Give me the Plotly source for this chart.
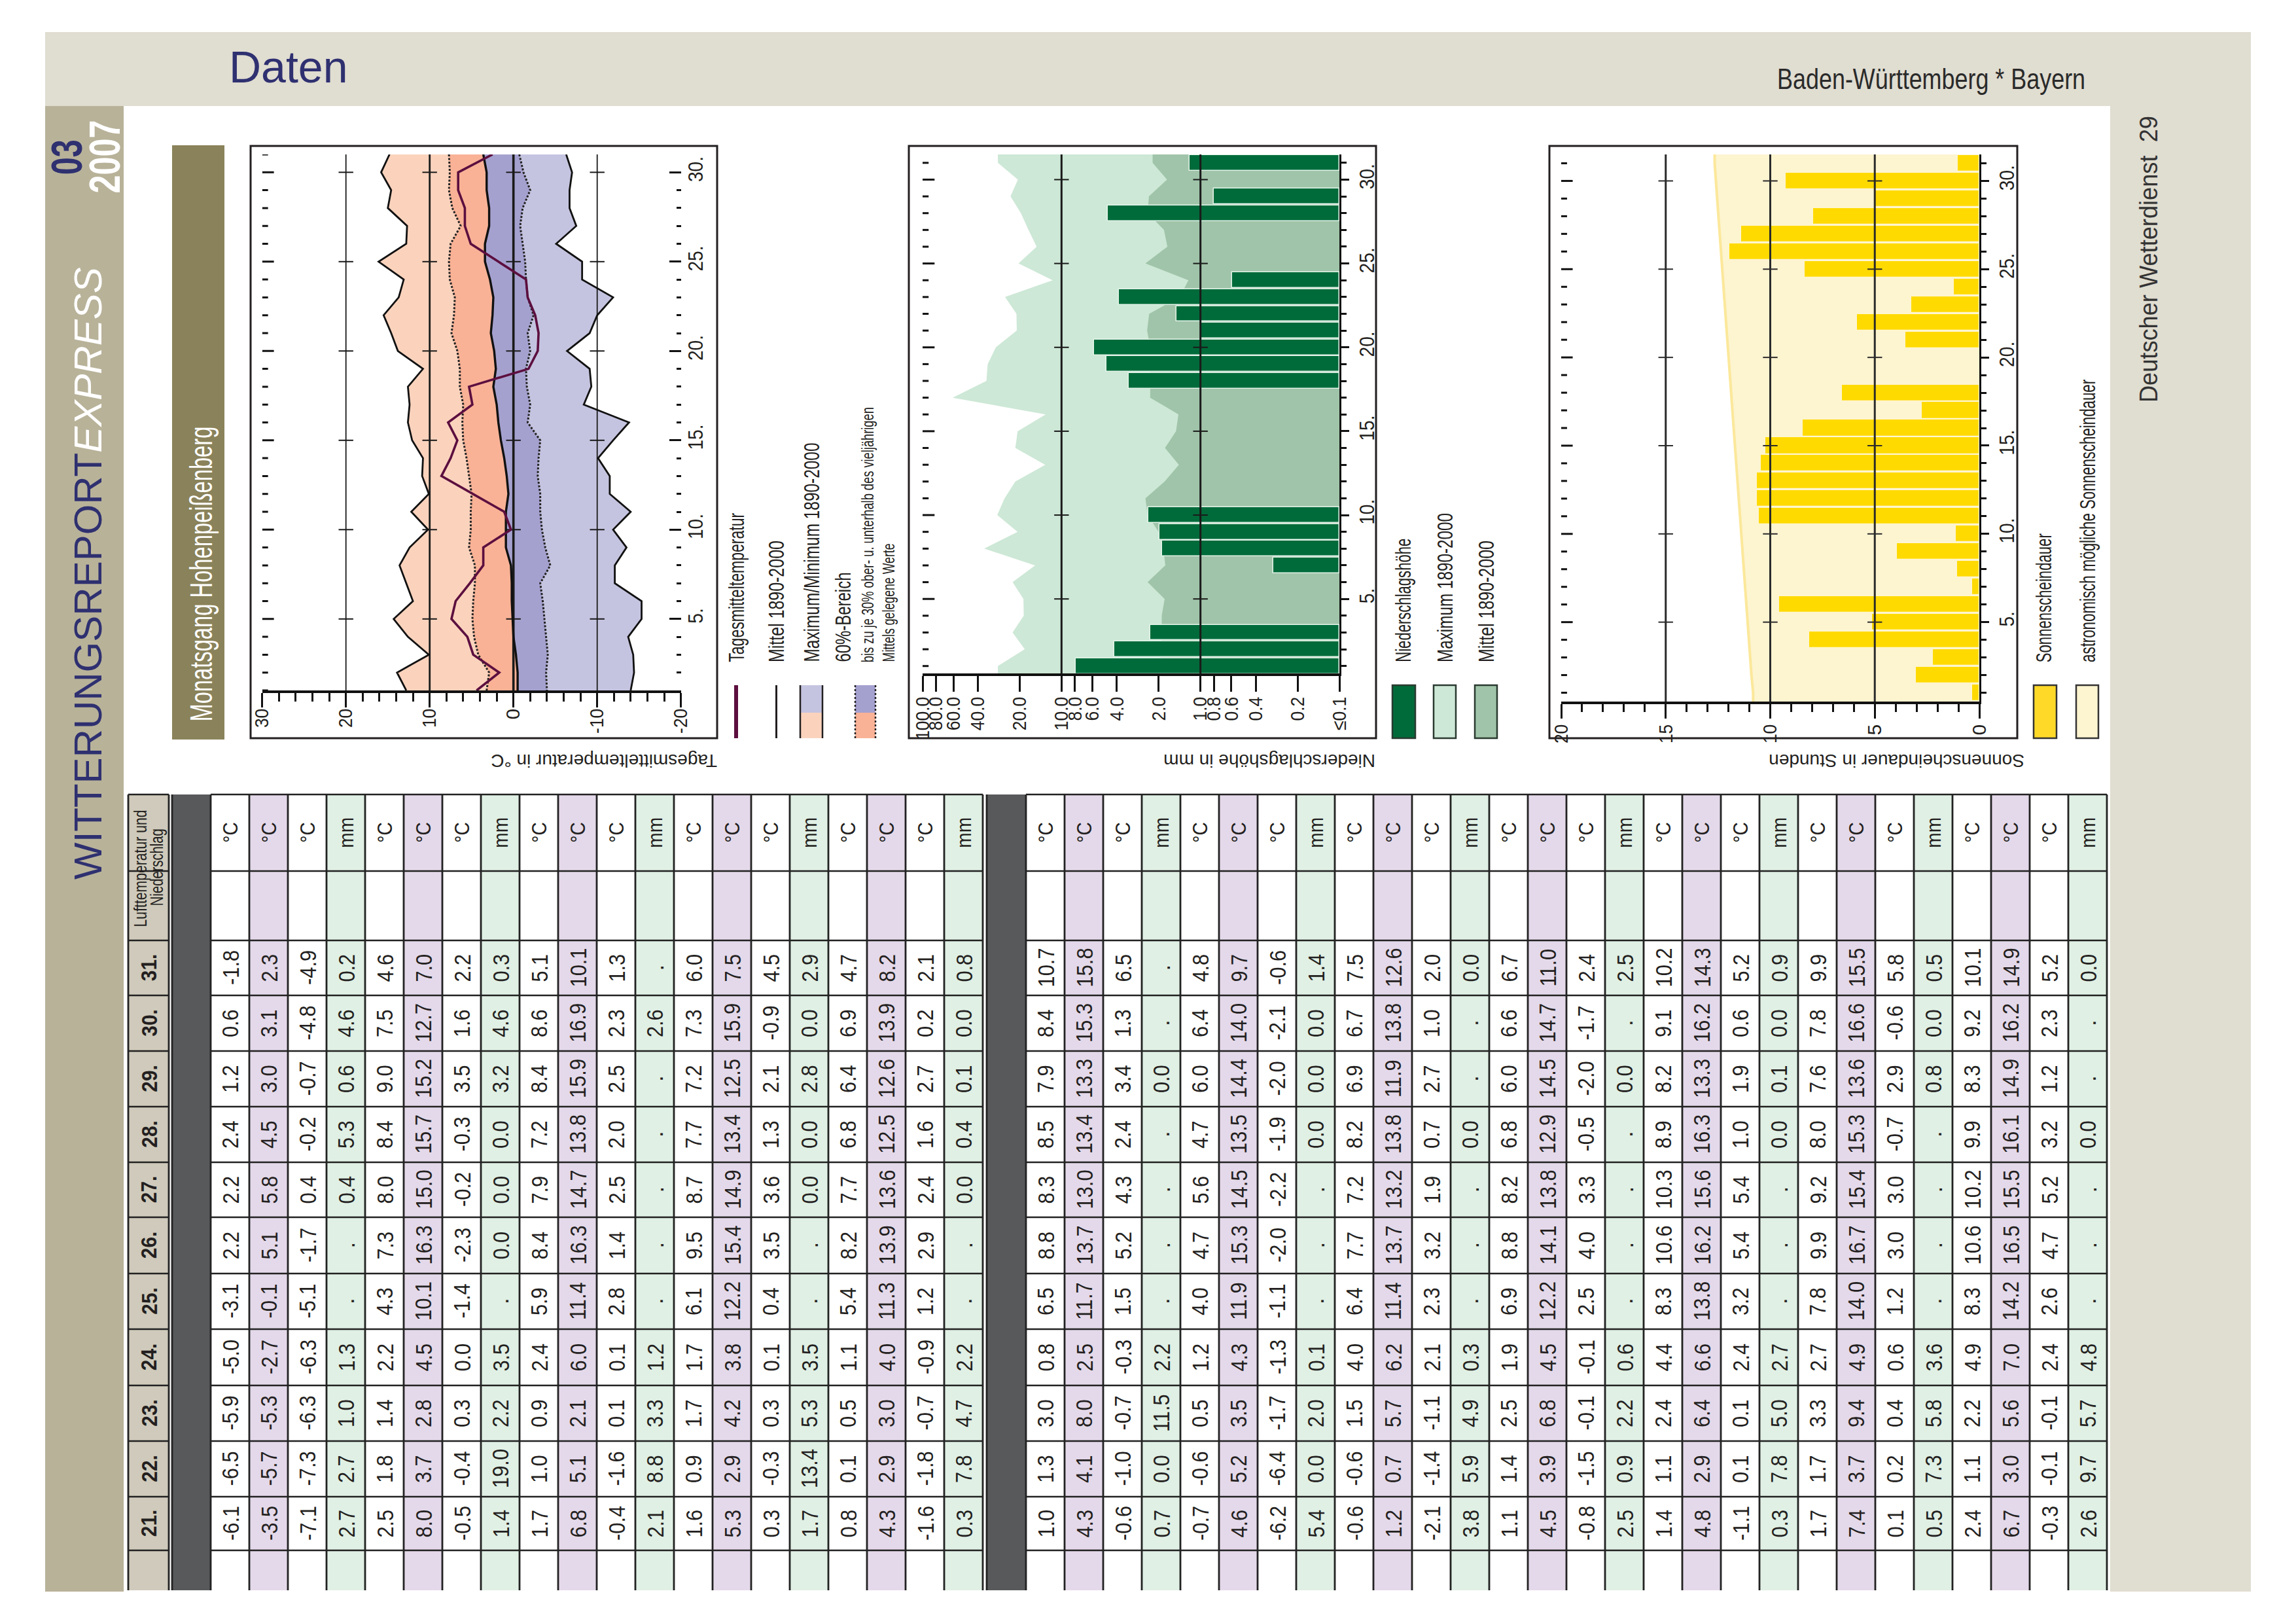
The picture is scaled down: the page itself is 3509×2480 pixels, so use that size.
import json
import plotly.graph_objects as go

W, H = 3509, 2480
NARROW = "Liberation Sans Narrow, Liberation Sans, Arial, sans-serif"
ARIAL = "Liberation Sans, Arial, sans-serif"
INK = "#231f20"

days_desc = list(range(31, 0, -1))

# ---- temperature chart (day 31 down to day 1)
t_max = [14.8,15.8,14.6,15.0,12.7,12.8,16.1,13.1,13.7,15.5,14.6,13.8,10.8,12.6,12.4,12.6,12.1,10.8,10.9,10.1,12.2,10.2,12.4,13.6,12.8,12.0,14.3,12.6,10.1,13.9,12.8]
t_upper = [7.7,7.6,7.7,7.3,6.3,7.5,7.7,7.6,7.0,7.1,7.4,6.7,6.4,6.4,6.0,6.1,6.0,5.6,5.3,5.0,5.1,5.1,5.3,4.6,4.6,4.8,4.9,4.7,4.2,2.9,3.2]
t_mean = [3.6,3.2,3.2,2.9,2.9,3.4,3.4,2.8,2.4,2.5,2.7,2.3,2.1,2.4,2.0,1.8,1.5,1.1,0.8,0.6,0.9,0.9,0.9,0.3,0.2,0.2,0.1,0.0,-0.3,-0.5,-0.5]
t_lower = [-0.7,-1.2,-2.0,-1.1,-0.8,-1.1,-1.4,-1.5,-1.7,-2.4,-1.7,-2.0,-1.5,-1.6,-2.0,-1.7,-3.2,-3.0,-2.9,-3.2,-3.2,-3.4,-3.8,-4.4,-3.2,-3.5,-3.7,-3.9,-4.1,-3.9,-4.0]
t_min = [-6.3,-7.0,-6.7,-6.7,-7.5,-5.1,-8.2,-8.2,-11.9,-10.0,-9.1,-6.4,-9.1,-9.3,-8.4,-13.8,-11.9,-10.1,-11.5,-11.5,-14.0,-11.9,-13.5,-12.1,-12.1,-15.3,-15.3,-13.7,-14.3,-14.4,-14.0]
t_day = [2.5,6.6,6.6,5.8,5.8,5.1,1.8,-1.5,-1.7,-2.6,-3.0,-2.9,-1.8,5.3,4.9,7.8,6.7,7.5,8.6,4.9,1.1,0.3,3.6,3.6,5.2,6.9,7.4,5.5,4.8,1.7,4.4]
t_ticks = [30, 20, 10, 0, -10, -20]
t_labels = ["30", "20", "10", "0", "-10", "-20"]
t_grid = [20, 10, 0, -10]

# ---- precipitation chart
p_max = [28.7,20.6,23.3,19.6,17.3,15.1,20.4,11.6,25.5,21.1,21.0,29.7,34.0,34.7,60.8,13.0,20.7,21.5,13.1,21.5,25.7,29.0,20.7,36.0,15.5,22.5,18.8,18.7,22.5,18.4,28.7]
p_mean = [2.21,1.74,2.35,2.4,1.83,1.73,2.49,1.22,1.41,2.34,2.42,2.3,2.3,2.3,2.3,1.44,1.5,1.8,1.43,1.81,2.49,2.4,2.0,1.85,1.79,2.4,1.81,1.9,1.9,1.9,2.0]
p_day = [1.2,None,0.8,4.67,None,None,None,0.59,3.87,1.49,1.0,5.86,4.75,3.27,None,None,None,None,None,None,None,2.38,1.98,1.88,0.30,None,None,None,2.29,4.19,7.88]
p_ticks = [100,80,60,40,20,10,8,6,4,2,1,0.8,0.6,0.4,0.2,0.1]
p_labels = ["100.0","80.0","60.0","40.0","20.0","10.0","8.0","6.0","4.0","2.0","1.0","0.8","0.6","0.4","0.2","≤0.1"]
p_grid = [10, 1]

# ---- sunshine chart
s_astro = [12.66,12.6,12.54,12.48,12.42,12.36,12.3,12.24,12.18,12.12,12.06,12.0,11.94,11.88,11.82,11.76,11.7,11.64,11.58,11.52,11.46,11.4,11.34,11.28,11.22,11.16,11.1,11.04,10.98,10.9,10.82]
s_day = [1.04,9.25,5.0,7.95,11.4,11.96,8.36,1.23,3.26,5.85,3.53,None,None,6.57,2.75,8.45,10.24,10.46,10.65,10.65,10.55,1.14,3.94,1.06,0.34,9.57,5.14,8.14,2.22,3.04,0.34]
s_ticks = [20, 15, 10, 5, 0]
s_grid = [15, 10, 5]

# ---- table (each column lists days 31 down to 21; None = ".")
table_days = ["31.","30.","29.","28.","27.","26.","25.","24.","23.","22.","21."]
table_a = [
 [-1.8,0.6,1.2,2.4,2.2,2.2,-3.1,-5.0,-5.9,-6.5,-6.1],
 [2.3,3.1,3.0,4.5,5.8,5.1,-0.1,-2.7,-5.3,-5.7,-3.5],
 [-4.9,-4.8,-0.7,-0.2,0.4,-1.7,-5.1,-6.3,-6.3,-7.3,-7.1],
 [0.2,4.6,0.6,5.3,0.4,None,None,1.3,1.0,2.7,2.7],
 [4.6,7.5,9.0,8.4,8.0,7.3,4.3,2.2,1.4,1.8,2.5],
 [7.0,12.7,15.2,15.7,15.0,16.3,10.1,4.5,2.8,3.7,8.0],
 [2.2,1.6,3.5,-0.3,-0.2,-2.3,-1.4,0.0,0.3,-0.4,-0.5],
 [0.3,4.6,3.2,0.0,0.0,0.0,None,3.5,2.2,19.0,1.4],
 [5.1,8.6,8.4,7.2,7.9,8.4,5.9,2.4,0.9,1.0,1.7],
 [10.1,16.9,15.9,13.8,14.7,16.3,11.4,6.0,2.1,5.1,6.8],
 [1.3,2.3,2.5,2.0,2.5,1.4,2.8,0.1,0.1,-1.6,-0.4],
 [None,2.6,None,None,None,None,None,1.2,3.3,8.8,2.1],
 [6.0,7.3,7.2,7.7,8.7,9.5,6.1,1.7,1.7,0.9,1.6],
 [7.5,15.9,12.5,13.4,14.9,15.4,12.2,3.8,4.2,2.9,5.3],
 [4.5,-0.9,2.1,1.3,3.6,3.5,0.4,0.1,0.3,-0.3,0.3],
 [2.9,0.0,2.8,0.0,0.0,None,None,3.5,5.3,13.4,1.7],
 [4.7,6.9,6.4,6.8,7.7,8.2,5.4,1.1,0.5,0.1,0.8],
 [8.2,13.9,12.6,12.5,13.6,13.9,11.3,4.0,3.0,2.9,4.3],
 [2.1,0.2,2.7,1.6,2.4,2.9,1.2,-0.9,-0.7,-1.8,-1.6],
 [0.8,0.0,0.1,0.4,0.0,None,None,2.2,4.7,7.8,0.3],
]
table_b = [
 [10.7,8.4,7.9,8.5,8.3,8.8,6.5,0.8,3.0,1.3,1.0],
 [15.8,15.3,13.3,13.4,13.0,13.7,11.7,2.5,8.0,4.1,4.3],
 [6.5,1.3,3.4,2.4,4.3,5.2,1.5,-0.3,-0.7,-1.0,-0.6],
 [None,None,0.0,None,None,None,None,2.2,11.5,0.0,0.7],
 [4.8,6.4,6.0,4.7,5.6,4.7,4.0,1.2,0.5,-0.6,-0.7],
 [9.7,14.0,14.4,13.5,14.5,15.3,11.9,4.3,3.5,5.2,4.6],
 [-0.6,-2.1,-2.0,-1.9,-2.2,-2.0,-1.1,-1.3,-1.7,-6.4,-6.2],
 [1.4,0.0,0.0,0.0,None,None,None,0.1,2.0,0.0,5.4],
 [7.5,6.7,6.9,8.2,7.2,7.7,6.4,4.0,1.5,-0.6,-0.6],
 [12.6,13.8,11.9,13.8,13.2,13.7,11.4,6.2,5.7,0.7,1.2],
 [2.0,1.0,2.7,0.7,1.9,3.2,2.3,2.1,-1.1,-1.4,-2.1],
 [0.0,None,None,0.0,None,None,None,0.3,4.9,5.9,3.8],
 [6.7,6.6,6.0,6.8,8.2,8.8,6.9,1.9,2.5,1.4,1.1],
 [11.0,14.7,14.5,12.9,13.8,14.1,12.2,4.5,6.8,3.9,4.5],
 [2.4,-1.7,-2.0,-0.5,3.3,4.0,2.5,-0.1,-0.1,-1.5,-0.8],
 [2.5,None,0.0,None,None,None,None,0.6,2.2,0.9,2.5],
 [10.2,9.1,8.2,8.9,10.3,10.6,8.3,4.4,2.4,1.1,1.4],
 [14.3,16.2,13.3,16.3,15.6,16.2,13.8,6.6,6.4,2.9,4.8],
 [5.2,0.6,1.9,1.0,5.4,5.4,3.2,2.4,0.1,0.1,-1.1],
 [0.9,0.0,0.1,0.0,None,None,None,2.7,5.0,7.8,0.3],
 [9.9,7.8,7.6,8.0,9.2,9.9,7.8,2.7,3.3,1.7,1.7],
 [15.5,16.6,13.6,15.3,15.4,16.7,14.0,4.9,9.4,3.7,7.4],
 [5.8,-0.6,2.9,-0.7,3.0,3.0,1.2,0.6,0.4,0.2,0.1],
 [0.5,0.0,0.8,None,None,None,None,3.6,5.8,7.3,0.5],
 [10.1,9.2,8.3,9.9,10.2,10.6,8.3,4.9,2.2,1.1,2.4],
 [14.9,16.2,14.9,16.1,15.5,16.5,14.2,7.0,5.6,3.0,6.7],
 [5.2,2.3,1.2,3.2,5.2,4.7,2.6,2.4,-0.1,-0.1,-0.3],
 [0.0,None,None,0.0,None,None,None,4.8,5.7,9.7,2.6],
]

# ---------------------------------------------------------------- layout geometry (pixels)
PAGE_BOTTOM = 2432
def dx(a, b): return [a / W, b / W]
def dy(t, b): return [1 - b / H, 1 - t / H]

fig = go.Figure()
annots, shapes = [], []
fit = {}

def txt(x, y, s, size, color=INK, font=NARROW, angle=-90, xa="center", ya="middle", weight=400, length=None):
    annots.append(dict(xref="x", yref="y", x=x, y=y, text=s, showarrow=False,
                       font=dict(size=size, color=color, family=font, weight=weight), textangle=angle,
                       xanchor=xa, yanchor=ya, borderpad=0, borderwidth=0))
    if length:
        fit[s] = length

def rect(x0, y0, x1, y1, fill=None, line=None, lw=0, layer="below", dash=None):
    shapes.append(dict(type="rect", xref="x", yref="y", x0=x0, y0=y0, x1=x1, y1=y1, layer=layer,
                       fillcolor=fill or "rgba(0,0,0,0)",
                       line=dict(color=line or "rgba(0,0,0,0)", width=lw, dash=dash or "solid")))

def vline(x, y0, y1, color, lw, dash="solid"):
    shapes.append(dict(type="line", xref="x", yref="y", x0=x, x1=x, y0=y0, y1=y1, layer="above",
                       line=dict(color=color, width=lw, dash=dash)))

# page bands
BAND, SIDE = "#e0ddd1", "#b8b299"
rect(69, 49, 3440, 162, BAND)
rect(3225, 162, 3440, PAGE_BOTTOM, BAND)
rect(69, 162, 189, PAGE_BOTTOM, SIDE)
rect(263, 222, 343, 1130, "#8a825a")
for a, b in [(383, 1096), (1389, 2103), (2368, 3083)]:
    rect(a, 223, b, 1128, None, INK, 3, layer="above")

# headings
txt(350, 64, "Daten", 68, "#2e3070", ARIAL, 0, "left", "top")
txt((3187 + 2716) / 2, 120, "Baden-Württemberg * Bayern", 44, "#2a2a2a", ARIAL, 0, "center", "middle", length=471)
txt(3283, 396, "Deutscher Wetterdienst  29", 39, "#333333", ARIAL, length=438)
txt(102, 241, "03", 66, "#2e3070", weight=700, length=54)
txt(160, 240, "2007", 66, "#ffffff", weight=700, length=112)
txt(134, 1344, 'WITTERUNGSREPORT<span style="color:#ffffff"><i>EXPRESS</i></span>', 60, "#2e3070", ARIAL, ya="bottom")
txt(307, 877, "Monatsgang Hohenpeißenberg", 48, "#ffffff", length=451)
txt(1096, 1163, "Tagesmitteltemperatur in °C", 28, INK, ARIAL, 180, "right", "middle")
txt(2102, 1163, "Niederschlagshöhe in mm", 28, INK, ARIAL, 180, "right", "middle")
txt(3094, 1163, "Sonnenscheindauer in Stunden", 28, INK, ARIAL, 180, "right", "middle")

# legends
LEG_B = 1012
def leg(x, s, length, size=33):
    txt(x, LEG_B - length / 2, s, size, length=length)
rect(1122, 1047, 1128, 1128, "#5c0f3f")
leg(1125, "Tagesmitteltemperatur", 228)
rect(1185, 1047, 1188, 1128, INK)
leg(1186, "Mittel 1890-2000", 186)
rect(1223, 1047, 1257, 1089, "#c5c4e0")
rect(1223, 1089, 1257, 1128, "#fbd3bd")
vline(1223, 1047, 1128, INK, 2.5)
vline(1257, 1047, 1128, INK, 2.5)
leg(1240, "Maximum/Minimum 1890-2000", 335)
rect(1307, 1047, 1338, 1089, "#a5a1cf")
rect(1307, 1089, 1338, 1128, "#f9b296")
vline(1307, 1047, 1128, INK, 2.5, "dot")
vline(1338, 1047, 1128, INK, 2.5, "dot")
leg(1288, "60%-Bereich", 137)
leg(1326, "bis zu je 30% ober- u. unterhalb des vieljährigen", 390, 25)
leg(1357, "Mittels gelegene Werte", 181, 25)
rect(2128, 1047, 2163, 1128, "#006b3a", "#2a3a30", 2.5)
leg(2144, "Niederschlagshöhe", 189)
rect(2191, 1047, 2225, 1128, "#cde8d6", "#2a3a30", 2.5)
leg(2208, "Maximum 1890-2000", 228)
rect(2254, 1047, 2288, 1128, "#a0c4a9", "#2a3a30", 2.5)
leg(2271, "Mittel 1890-2000", 186)
rect(3108, 1047, 3143, 1128, "#ffd928", "#333333", 2.5)
leg(3123, "Sonnenscheindauer", 197)
rect(3173, 1047, 3207, 1128, "#fdf4d0", "#333333", 2.5)
leg(3190, "astronomisch mögliche Sonnenscheindauer", 432)

# ---------------------------------------------------------------- table
row_edges = [1214, 1331, 1437, 1521, 1606, 1691, 1776, 1860, 1946, 2031, 2117, 2202, 2287, 2369, 2430]
col_a0, col_b0, cw = 322, 1568, 59
xa_edges = [col_a0 + cw * i for i in range(21)]
xb_edges = [col_b0 + cw * i for i in range(29)]
x_edges = [196, 258, 263, 322] + xa_edges[1:] + [1508, 1568] + xb_edges[1:]
WHITE, PURPLE, GREEN, BEIGE, DARK = 0, 1, 2, 3, 4
col_types = [BEIGE, WHITE, DARK] + [[WHITE, PURPLE, WHITE, GREEN][i % 4] for i in range(20)] \
            + [WHITE, DARK] + [[WHITE, PURPLE, WHITE, GREEN][i % 4] for i in range(28)]
z = [col_types[:] for _ in range(len(row_edges) - 1)]
palette = ["#ffffff", "#e4d9ea", "#e0f0e5", "#cfcabb", "#58595b"]
scale = []
for i, c in enumerate(palette):
    scale += [[i / 5, c], [(i + 1) / 5, c]]
fig.add_trace(go.Heatmap(x=x_edges, y=row_edges, z=[[v + 0.5 for v in r] for r in z], zmin=0, zmax=5, colorscale=scale,
                         showscale=False, hoverinfo="skip", xaxis="x", yaxis="y"))

lx, ly = [], []
for edges in ([196, 258], xa_edges, xb_edges):
    for y in row_edges[:-1]:
        lx += [edges[0], edges[-1], None]; ly += [y, y, None]
lx2, ly2 = [], []
for x in [196, 258, 263] + xa_edges + [1508] + xb_edges:
    lx2 += [x, x, None]; ly2 += [row_edges[0], row_edges[-1], None]
fig.add_trace(go.Scatter(x=lx, y=ly, mode="lines", line=dict(color="#222222", width=2.4),
                         hoverinfo="skip", xaxis="x", yaxis="y"))
fig.add_trace(go.Scatter(x=lx2, y=ly2, mode="lines", line=dict(color="#222222", width=2.8),
                         hoverinfo="skip", xaxis="x", yaxis="y"))

txt(215, 1327, "Lufttemperatur und", 27, length=179)
txt(240, 1325, "Niederschlag", 27, length=118)
for i, d in enumerate(table_days):
    txt(227, (row_edges[i + 2] + row_edges[i + 3]) / 2, d, 34, weight=700)

def fill_table(cols, edges):
    for c, col in enumerate(cols):
        cx = (edges[c] + edges[c + 1]) / 2
        unit = "mm" if c % 4 == 3 else "°C"
        txt(cx, (row_edges[0] + row_edges[1]) / 2, unit, 32)
        for r, v in enumerate(col):
            s = "." if v is None else f"{v:.1f}"
            txt(cx, (row_edges[r + 2] + row_edges[r + 3]) / 2, s, 35)
fill_table(table_a, xa_edges)
fill_table(table_b, xb_edges)

# ---------------------------------------------------------------- helpers for charts
def closed(a, b):
    return list(a) + list(b)[::-1]

def left_stubs(days, x0, x1):
    xs, ys = [], []
    for d in days:
        xs += [x0, x1, None]; ys += [d, d, None]
    return xs, ys

def add_grid(grid, xa, ya, lws, color="#1a1a1a", y0=1, y1=31):
    for g, lw in zip(grid, lws):
        fig.add_trace(go.Scatter(x=[g, g], y=[y0, y1], mode="lines", line=dict(color=color, width=lw),
                                 hoverinfo="skip", xaxis=xa, yaxis=ya))
        fig.add_trace(go.Scatter(x=[g] * 6, y=list(range(5, 31, 5)), mode="markers",
                                 marker=dict(symbol="line-ew", size=16, line=dict(color=color, width=2)),
                                 hoverinfo="skip", xaxis=xa, yaxis=ya))

def add_stubs(xa, ya, x0, xminor, xmajor):
    majors = list(range(5, 31, 5))
    minors = [d for d in days_desc if d not in majors]
    for ds, x1, lw in [(minors, xminor, 3), (majors, xmajor, 3)]:
        xs, ys = left_stubs(ds, x0, x1)
        fig.add_trace(go.Scatter(x=xs, y=ys, mode="lines", line=dict(color="#111111", width=lw),
                                 hoverinfo="skip", xaxis=xa, yaxis=ya))

def area(xs, ys, color, xa, ya):
    fig.add_trace(go.Scatter(x=xs, y=ys, mode="lines", fill="toself", fillcolor=color,
                             line=dict(width=0), hoverinfo="skip", xaxis=xa, yaxis=ya))

def curve(xs, ys, color, lw, xa, ya, dash="solid"):
    fig.add_trace(go.Scatter(x=xs, y=ys, mode="lines", line=dict(color=color, width=lw, dash=dash),
                             hoverinfo="skip", xaxis=xa, yaxis=ya))

def day_axis(domain, rng, anchor, ticks, length, minor_len, line, standoff, lw=3):
    return dict(domain=domain, range=rng, anchor=anchor, side="right", tick0=5, dtick=5, automargin=False,
                ticks=ticks, ticklen=length, tickwidth=2.5, tickcolor="#111111", ticksuffix=".",
                tickangle=-90, tickfont=dict(family=NARROW, size=32, color=INK), showgrid=False, zeroline=False,
                showline=line, linecolor="#111111", linewidth=lw, ticklabelstandoff=standoff,
                minor=dict(ticks=ticks, dtick=1, tick0=1, ticklen=minor_len, tickwidth=2.5, tickcolor="#111111", showgrid=False))

def value_axis(domain, rng, anchor, vals, labels=None, length=22, minor=None, kind="linear", standoff=0):
    ax = dict(domain=domain, range=rng, anchor=anchor, type=kind, tickmode="array", tickvals=vals, automargin=False,
              ticks="outside", ticklen=length, tickwidth=2.5, tickcolor="#111111", tickangle=-90,
              tickfont=dict(family=NARROW, size=30, color=INK), showgrid=False, zeroline=False,
              showline=True, linecolor="#111111", linewidth=3.5, ticklabelstandoff=standoff)
    if labels:
        ax["ticktext"] = labels
    if minor:
        ax["minor"] = minor
    return ax

# ---------------------------------------------------------------- temperature
area(closed(t_max, t_mean), closed(days_desc, days_desc), "#fbd3bd", "x2", "y2")
area(closed(t_upper, t_mean), closed(days_desc, days_desc), "#f9b296", "x2", "y2")
area(closed(t_min, t_mean), closed(days_desc, days_desc), "#c5c4e0", "x2", "y2")
area(closed(t_lower, t_mean), closed(days_desc, days_desc), "#a5a1cf", "x2", "y2")
add_grid(t_grid, "x2", "y2", [1.8, 2.8, 3.6, 1.8])
add_stubs("x2", "y2", 30, 29.3, 28.6)
curve(t_max, days_desc, "#111111", 2.8, "x2", "y2")
curve(t_min, days_desc, "#111111", 2.8, "x2", "y2")
curve(t_mean, days_desc, "#111111", 3.4, "x2", "y2")
curve(t_upper, days_desc, "#222222", 3, "x2", "y2", "3px,2.5px")
curve(t_lower, days_desc, "#222222", 3, "x2", "y2", "3px,2.5px")
curve(t_day, days_desc, "#5c0f3f", 3.6, "x2", "y2")

# ---------------------------------------------------------------- precipitation
P_Y = [0.56, 31.5]
pys = [P_Y[1]] + days_desc + [P_Y[0]]
pbase = 0.1
area(closed([p_max[0]] + p_max + [p_max[-1]], [pbase] * 33), closed(pys, pys), "#cde8d6", "x3", "y3")
area(closed([p_mean[0]] + p_mean + [p_mean[-1]], [pbase] * 33), closed(pys, pys), "#a0c4a9", "x3", "y3")
fig.add_trace(go.Bar(y=days_desc, x=[None if v is None else v - pbase for v in p_day], base=pbase,
                     orientation="h", width=0.93, marker=dict(color="#006b3a", line=dict(color="#e4f3e9", width=1.5)),
                     hoverinfo="skip", xaxis="x3", yaxis="y5"))
add_grid(p_grid, "x3", "y5", [3, 3], y0=P_Y[0], y1=P_Y[1])
add_stubs("x3", "y5", 100, 90.5, 82)

# ---------------------------------------------------------------- sunshine
S_Y = [0.5, 31.5]
sys_ = [S_Y[1]] + days_desc + [S_Y[0]]
astro = [s_astro[0]] + s_astro + [s_astro[-1]]
area(closed(astro, [0] * 33), closed(sys_, sys_), "#fdf4d0", "x4", "y4")
curve(astro, sys_, "#fbe89a", 4, "x4", "y4")
fig.add_trace(go.Bar(y=days_desc, x=s_day, orientation="h", width=0.93,
                     marker=dict(color="#ffda00", line=dict(color="#fff6d0", width=1.2)),
                     hoverinfo="skip", xaxis="x4", yaxis="y6"))
add_grid(s_grid, "x4", "y6", [3, 3, 3], color="#2b2b2b", y0=S_Y[0], y1=S_Y[1])
add_stubs("x4", "y6", 20, 19.72, 19.45)

# ---------------------------------------------------------------- axes
layout_axes = dict(
    xaxis=dict(domain=[0, 1], range=[0, W], visible=False, anchor="y", automargin=False),
    yaxis=dict(domain=[0, 1], range=[H, 0], visible=False, anchor="x", automargin=False),
    xaxis2=value_axis(dx(400.7, 1040.7), [30, -20], "y2", t_ticks, t_labels, length=22, standoff=-10,
                      minor=dict(ticks="outside", dtick=2, tick0=0, ticklen=13, tickwidth=2.5, tickcolor="#111111", showgrid=False)),
    yaxis2=day_axis(dy(236, 1055), [1, 31], "x2", "inside", 18, 7, False, 0),
    xaxis3=value_axis(dx(1410, 2047), [2, -1], "y3", p_ticks, p_labels, 24, kind="log", standoff=-4),
    yaxis3=day_axis(dy(236, 1029), [P_Y[0], P_Y[1]], "x3", "outside", 12, 8, True, 0),
    xaxis4=value_axis(dx(2386, 3025), [20, 0], "y4", s_ticks, length=22, standoff=-3,
                      minor=dict(ticks="outside", dtick=1, tick0=0, ticklen=12, tickwidth=2.5, tickcolor="#111111", showgrid=False)),
    yaxis4=day_axis(dy(236, 1072), [S_Y[0], S_Y[1]], "x4", "outside", 12, 8, True, 0),
    yaxis5=dict(domain=dy(236, 1029), range=[P_Y[0], P_Y[1]], overlaying="y3", visible=False, anchor="x3"),
    yaxis6=dict(domain=dy(236, 1072), range=[S_Y[0], S_Y[1]], overlaying="y4", visible=False, anchor="x4"),
)

fig.update_layout(width=W, height=H, margin=dict(l=0, r=0, t=0, b=0, pad=0), autosize=False, template="none",
                  paper_bgcolor="#ffffff", plot_bgcolor="rgba(0,0,0,0)", showlegend=False, bargap=0,
                  annotations=annots, shapes=shapes, **layout_axes)

# narrow the text to the condensed widths of the printed page (no condensed face is installed)
squeeze = """
var fit = %s;
document.body.style.margin = '0';
document.body.style.overflow = 'hidden';
document.querySelectorAll('svg text').forEach(function (t) {
  var s = t.textContent, fam = t.style.fontFamily || '';
  if (t.querySelector('tspan')) { return; }
  var n = t.getComputedTextLength();
  var target = fit[s];
  if (!target && fam.indexOf('Narrow') >= 0 && s.length > 1) {
    var cls = t.getAttribute('class') || '';
    target = n * (cls.indexOf('tick') >= 0 ? 0.74 : 0.88);
  }
  if (target && n > 0) {
    t.setAttribute('textLength', target);
    t.setAttribute('lengthAdjust', 'spacingAndGlyphs');
  }
});
""" % json.dumps(fit, ensure_ascii=False)

fig.write_html("out.html", post_script=squeeze, config={"displayModeBar": False})
